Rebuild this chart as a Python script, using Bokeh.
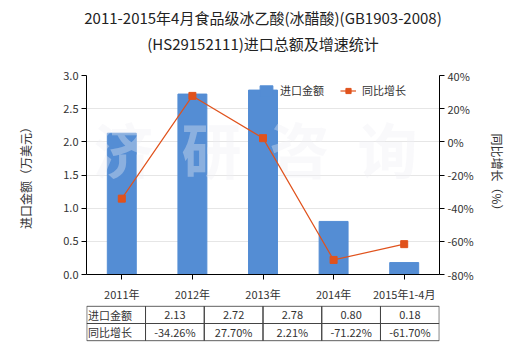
from bokeh.plotting import figure
from bokeh.models import (Range1d, LinearAxis, SingleIntervalTicker, PrintfTickFormatter,
                          Legend, LegendItem, Title, Label, ColumnDataSource, FactorRange)
from bokeh.layouts import column
from bokeh.core.properties import value
from bokeh.embed import file_html
from bokeh.resources import INLINE

categories = ["2011年", "2012年", "2013年", "2014年", "2015年1-4月"]
import_values = [2.13, 2.72, 2.78, 0.80, 0.18]
growth_values = [-34.26, 27.70, 2.21, -71.22, -61.70]
value_labels = ["2.13", "2.72", "2.78", "0.80", "0.18"]
growth_labels = ["-34.26%", "27.70%", "2.21%", "-71.22%", "-61.70%"]
row_names = ["进口金额", "同比增长"]
watermark_chars = ["济", "研", "咨", "询"]

FONT = "Noto Sans CJK SC"
BAR = "#548dd4"
LINE = "#e0521c"
TXT = "#333333"

p = figure(x_range=FactorRange(*categories), y_range=Range1d(0, 3),
           width=520, height=304, output_backend="svg", toolbar_location=None,
           min_border_left=86, min_border_right=81, min_border_top=75, min_border_bottom=29)
p.outline_line_color = None
p.background_fill_color = "white"

# titles (spacer first so the two lines sit higher above the frame)
spacer = Title(text=" ", text_font_size="1px", standoff=19)
t2 = Title(text="(HS29152111)进口总额及增速统计", align="center", text_font=FONT,
           text_font_size="15px", text_font_style="normal", text_color="#222222", standoff=0)
t1 = Title(text="2011-2015年4月食品级冰乙酸(冰醋酸)(GB1903-2008)", align="center", text_font=FONT,
           text_font_size="15px", text_font_style="normal", text_color="#222222", standoff=6)
p.add_layout(spacer, "above")
p.add_layout(t2, "above")
p.add_layout(t1, "above")

src = ColumnDataSource(dict(cat=categories, val=import_values, g=growth_values))
bars = p.vbar(x="cat", top="val", width=0.41, source=src, color=BAR)

p.extra_y_ranges = {"pct": Range1d(-80, 40)}
ln = p.line(x="cat", y="g", source=src, y_range_name="pct", line_color=LINE, line_width=1.2)
mk = p.scatter(x="cat", y="g", source=src, y_range_name="pct", marker="square", size=7,
               fill_color=LINE, line_color=LINE)
ln.level = "overlay"
mk.level = "overlay"

# axes
p.yaxis.ticker = SingleIntervalTicker(interval=0.5)
p.yaxis.formatter = PrintfTickFormatter(format="%.1f")
p.yaxis.axis_label = "进口金额（万美元）"
p.yaxis.axis_label_standoff = 26
right = LinearAxis(y_range_name="pct", ticker=SingleIntervalTicker(interval=20),
                   formatter=PrintfTickFormatter(format="%d%%"), axis_label="同比增长（%）")
right.axis_label_standoff = 12
p.add_layout(right, "right")

for ax in [p.xaxis[0], p.yaxis[0], right]:
    ax.axis_line_color = "black"
    ax.major_tick_line_color = "black"
    ax.minor_tick_line_color = None
    ax.major_tick_out = 5
    ax.major_tick_in = 0
    ax.major_label_text_font = FONT
    ax.major_label_text_font_size = "11px"
    ax.major_label_text_color = TXT
    ax.axis_label_text_font = FONT
    ax.axis_label_text_font_size = "12px"
    ax.axis_label_text_font_style = "normal"
    ax.axis_label_text_color = TXT
    ax.major_label_standoff = 3
p.xaxis.major_label_standoff = 6

p.xgrid.grid_line_color = None
p.ygrid.grid_line_color = "#e6e6e6"

# watermark
for i, ch in enumerate(watermark_chars):
    p.add_layout(Label(x=123 - 86 + i * 88, y=200 - (148 - 75), x_units="screen", y_units="screen",
                       text=ch, text_font=FONT, text_font_size="60px", text_font_style="bold",
                       text_color="#efeff3", text_alpha=0.36, text_align="center",
                       text_baseline="middle"))

legend = Legend(items=[LegendItem(label="进口金额", renderers=[bars]),
                       LegendItem(label="同比增长", renderers=[ln, mk])],
                location=(172, 176), orientation="horizontal", border_line_color=None,
                background_fill_alpha=0, padding=0, margin=0, spacing=16,
                glyph_width=16, glyph_height=13, label_height=13, label_standoff=6,
                label_text_font=FONT, label_text_font_size="11px", label_text_color=TXT)
p.add_layout(legend, "center")

# data table below
tb = figure(x_range=Range1d(-1.005, 5.005), y_range=Range1d(-0.04, 2.04), width=520, height=46,
            output_backend="svg", toolbar_location=None,
            min_border_left=15, min_border_right=80, min_border_top=1, min_border_bottom=9)
tb.outline_line_color = None
tb.axis.visible = False
tb.grid.visible = False

n = len(categories)
cell_x = [c for c in range(-1, n)]
xs = [c + 0.5 for c in cell_x] * 2
ys = [1.5] * len(cell_x) + [0.5] * len(cell_x)
tb.rect(x=xs, y=ys, width=1, height=1, fill_color=None, line_color="#444444", line_width=1)

idx = [i + 0.5 for i in range(n)]
tb.text(x=idx, y=[1.5] * n, text=value_labels, text_align="center", text_baseline="middle",
        text_font=value(FONT), text_font_size=value("11px"), text_color=TXT)
tb.text(x=idx, y=[0.5] * n, text=growth_labels, text_align="center", text_baseline="middle",
        text_font=value(FONT), text_font_size=value("11px"), text_color=TXT)
tb.text(x=[-0.98, -0.98], y=[1.5, 0.5], text=row_names, text_align="left", text_baseline="middle",
        text_font=value(FONT), text_font_size=value("11px"), text_color=TXT)

layout = column(p, tb, spacing=0)
open("out.html", "w").write(file_html(layout, INLINE))
